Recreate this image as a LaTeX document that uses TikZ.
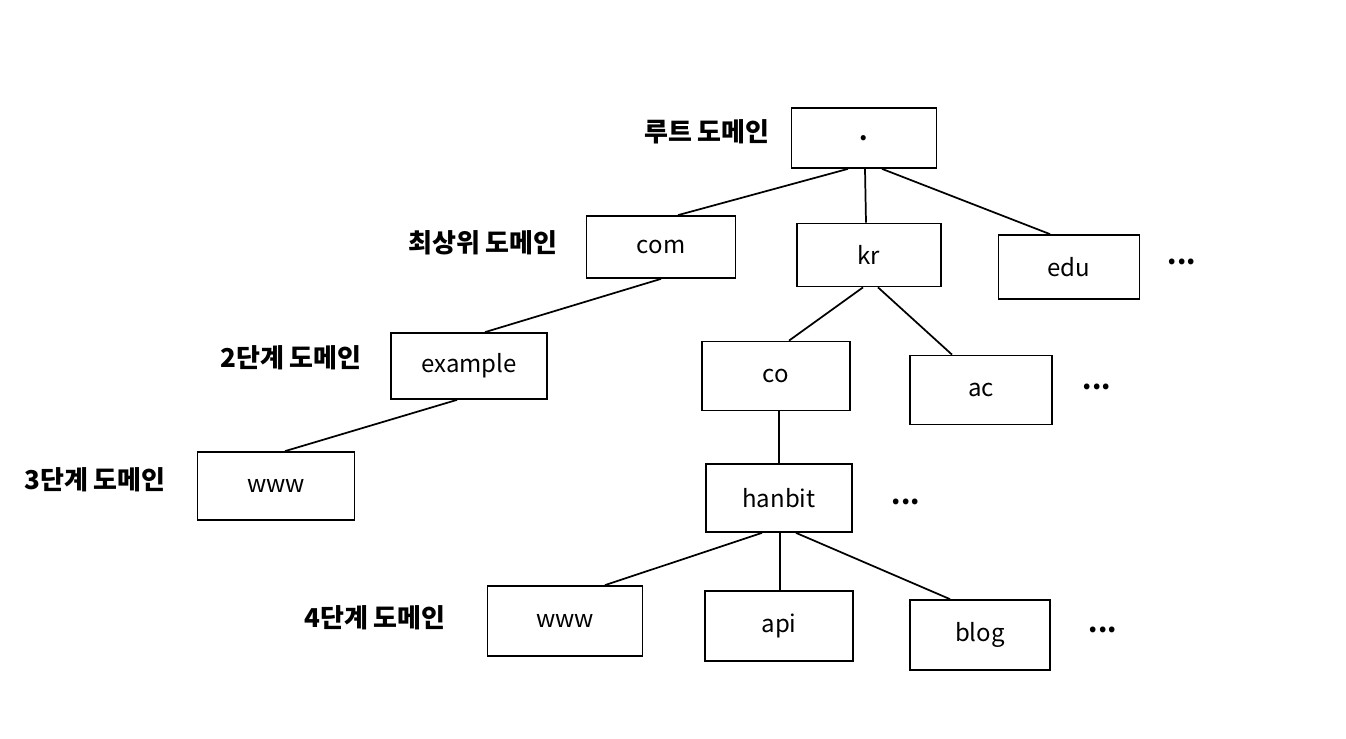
\documentclass[tikz,border=0pt]{standalone}
\usepackage{fontspec}
\newfontfamily\krfont{Noto Sans CJK KR}
\usetikzlibrary{calc}
\tikzset{
  box/.style 2 args={draw, line width=1.3pt, inner sep=0pt, minimum width=#1*0.75pt, minimum height=#2*0.75pt, font=\krfont\fontsize{18}{21}\selectfont},
  lvl/.style={anchor=east, inner sep=0pt, font=\krfont\bfseries\fontsize{19.5}{23}\selectfont},
  more/.style={inner sep=0pt, font=\krfont\bfseries\fontsize{20}{22}\selectfont},
  link/.style={line width=1.3pt}
}
\begin{document}
\begin{tikzpicture}[x=0.75pt,y=-0.75pt]
\useasboundingbox (0,0) rectangle (1346,739);
% boxes
\node[box={145}{60}] (root) at (864,138) {\bfseries .};
\node[box={149}{62}] (com) at (661,247) {com};
\node[box={144}{63}] (kr) at (869,255) {kr};
\node[box={141}{64}] (edu) at (1069,267) {edu};
\node[box={156}{66}] (example) at (469,366) {example};
\node[box={148}{69}] (co) at (776,376) {co};
\node[box={142}{69}] (ac) at (981,390) {ac};
\node[box={157}{68}] (www3) at (276,486) {www};
\node[box={146}{68}] (hanbit) at (779,498) {hanbit};
\node[box={155}{70}] (www4) at (565,621) {www};
\node[box={148}{70}] (api) at (779,626) {api};
\node[box={140}{70}] (blog) at (980,635) {blog};
% level labels
\node[lvl] (l0) at (770,132) {루트 도메인};
\node[lvl] (l1) at (558,243) {최상위 도메인};
\node[lvl] (l2) at (362,358) {2단계 도메인};
\node[lvl] (l3) at (166,480) {3단계 도메인};
\node[lvl] (l4) at (446,618) {4단계 도메인};
% ellipses
\node[more] (m1) at (1182,262) {...};
\node[more] (m2) at (1097,387) {...};
\node[more] (m3) at (906,502) {...};
\node[more] (m4) at (1103,630) {...};
% connectors
\draw[link] ($(root.south)+(-16,0)$) -- ($(com.north)+(17,0)$);
\draw[link] ($(root.south)+(1,0)$) -- ($(kr.north)+(-3,0)$);
\draw[link] ($(root.south)+(18,0)$) -- ($(edu.north)+(-19,0)$);
\draw[link] (com.south) -- ($(example.north)+(16,0)$);
\draw[link] ($(example.south)+(-12,0)$) -- ($(www3.north)+(9,0)$);
\draw[link] ($(kr.south)+(-6,0)$) -- ($(co.north)+(13,0)$);
\draw[link] ($(kr.south)+(9,0)$) -- ($(ac.north)+(-29,0)$);
\draw[link] ($(co.south)+(3,0)$) -- (hanbit.north);
\draw[link] ($(hanbit.south)+(-17,0)$) -- ($(www4.north)+(40,0)$);
\draw[link] ($(hanbit.south)+(1,0)$) -- ($(api.north)+(1,0)$);
\draw[link] ($(hanbit.south)+(17,0)$) -- ($(blog.north)+(-30,0)$);
\end{tikzpicture}
\end{document}
